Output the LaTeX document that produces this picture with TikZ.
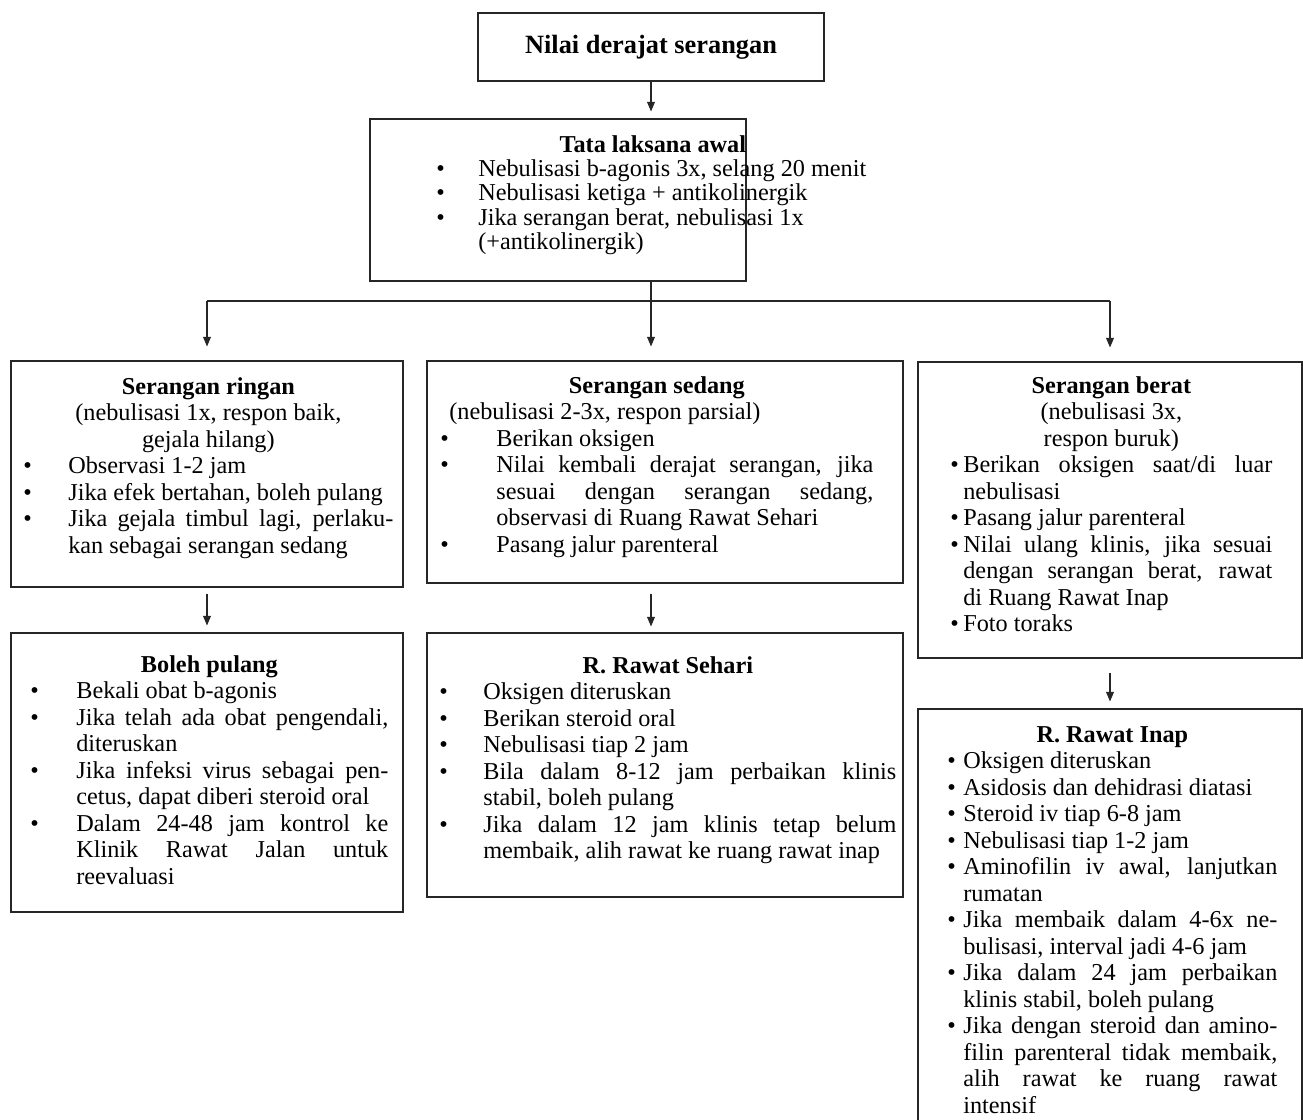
\documentclass[tikz,border=0pt]{standalone}
\usepackage{fontspec}
\setmainfont{Liberation Serif}
\usetikzlibrary{arrows.meta}

\newlength{\itmind}
\newcommand{\itm}[1]{\par\noindent\hangindent=\itmind\hangafter=1\makebox[\itmind][l]{\textbullet}#1\par}
\newcommand{\hd}[1]{{\centering\bfseries #1\par}}

\begin{document}
\begin{tikzpicture}[
            box/.style={rectangle, draw=black!85, line width=0.6pt, inner sep=0pt},
            txt/.style={anchor=base west, inner sep=0pt, align=justify, font=\fontsize{13.8}{15.1}\selectfont,
                execute at begin node={\hyphenpenalty=10000\exhyphenpenalty=10000\tolerance=9999\emergencystretch=1em\parindent=0pt}},
            ind/.style={execute at begin node={\setlength{\itmind}{#1}}},
            link/.style={draw=black!85, line width=0.6pt},
            arrow/.style={link, -{Triangle[length=5.5pt,width=4.5pt]}}
            ]
            \useasboundingbox (0,0) rectangle (26.06,-22.4);
            \clip (0,0) rectangle (26.06,-22.4);

            % Start
            \node[box, minimum width=6.92cm, minimum height=1.36cm, font=\fontsize{15}{17}\selectfont\bfseries] (top) at (13.02,-0.94) {Nilai derajat serangan};
            \node[box, minimum width=7.52cm, minimum height=3.24cm] (tata) at (11.16,-4.00) {};
            \node[txt, ind=0.84cm, text width=9.10cm, font=\fontsize{13.8}{13.9}\selectfont] (tatatxt) at (8.72,-3.04) {%
                \hd{Tata laksana awal\hspace*{0.44cm}}
                \itm{Nebulisasi b-agonis 3x, selang 20 menit}
                \itm{Nebulisasi ketiga + antikolinergik}
                \itm{Jika serangan berat, nebulisasi 1x\hfil\break (+antikolinergik)}};

            % Attack grades
            \node[box, minimum width=7.84cm, minimum height=4.52cm] (ringan) at (4.14,-9.48) {};
            \node[txt, ind=0.90cm, text width=7.40cm] (ringantxt) at (0.46,-7.88) {%
                \hd{Serangan ringan}
                {\centering (nebulisasi 1x, respon baik,\par gejala hilang)\par}
                \itm{Observasi 1-2 jam}
                \itm{Jika efek bertahan, boleh pulang}
                \itm{Jika gejala timbul lagi, perlaku-\linebreak kan sebagai serangan sedang}};

            \node[box, minimum width=9.52cm, minimum height=4.44cm] (sedang) at (13.30,-9.44) {};
            \node[txt, ind=1.12cm, text width=8.66cm] (sedangtxt) at (8.80,-7.86) {%
                \hd{Serangan sedang}
                \noindent\hspace*{0.18cm}(nebulisasi 2-3x, respon parsial)\par
                \itm{Berikan oksigen}
                \itm{Nilai kembali derajat serangan, jika\linebreak sesuai dengan serangan sedang,\linebreak observasi di Ruang Rawat Sehari}
                \itm{Pasang jalur parenteral}};

            \node[box, minimum width=7.68cm, minimum height=5.92cm] (berat) at (22.20,-10.20) {};
            \node[txt, ind=0.26cm, text width=6.44cm] (berattxt) at (19.00,-7.86) {%
                \hd{Serangan berat}
                {\centering (nebulisasi 3x,\par respon buruk)\par}
                \itm{Berikan oksigen saat/di luar\linebreak nebulisasi}
                \itm{Pasang jalur parenteral}
                \itm{Nilai ulang klinis, jika sesuai\linebreak dengan serangan berat, rawat\linebreak di Ruang Rawat Inap}
                \itm{Foto toraks}};

            % Follow-up
            \node[box, minimum width=7.84cm, minimum height=5.58cm] (pulang) at (4.14,-15.45) {};
            \node[txt, ind=0.92cm, text width=7.16cm] (pulangtxt) at (0.60,-13.44) {%
                \hd{Boleh pulang}
                \itm{Bekali obat b-agonis}
                \itm{Jika telah ada obat pengendali,\linebreak diteruskan}
                \itm{Jika infeksi virus sebagai pen-\linebreak cetus, dapat diberi steroid oral}
                \itm{Dalam 24-48 jam kontrol ke\linebreak Klinik Rawat Jalan untuk\linebreak reevaluasi}};

            \node[box, minimum width=9.52cm, minimum height=5.28cm] (sehari) at (13.30,-15.30) {};
            \node[txt, ind=0.88cm, text width=9.14cm] (seharitxt) at (8.78,-13.46) {%
                \hd{R. Rawat Sehari}
                \itm{Oksigen diteruskan}
                \itm{Berikan steroid oral}
                \itm{Nebulisasi tiap 2 jam}
                \itm{Bila dalam 8-12 jam perbaikan klinis\linebreak stabil, boleh pulang}
                \itm{Jika dalam 12 jam klinis tetap belum\linebreak membaik, alih rawat ke ruang rawat inap}};

            \node[box, minimum width=7.68cm, minimum height=8.62cm] (inap) at (22.20,-18.49) {};
            \node[txt, ind=0.32cm, text width=6.60cm] (inaptxt) at (18.94,-14.84) {%
                \hd{R. Rawat Inap}
                \itm{Oksigen diteruskan}
                \itm{Asidosis dan dehidrasi diatasi}
                \itm{Steroid iv tiap 6-8 jam}
                \itm{Nebulisasi tiap 1-2 jam}
                \itm{Aminofilin iv awal, lanjutkan\linebreak rumatan}
                \itm{Jika membaik dalam 4-6x ne-\linebreak bulisasi, interval jadi 4-6 jam}
                \itm{Jika dalam 24 jam perbaikan\linebreak klinis stabil, boleh pulang}
                \itm{Jika dengan steroid dan amino-\linebreak filin parenteral tidak membaik,\linebreak alih rawat ke ruang rawat\linebreak intensif}};

            % Arrows
            \coordinate (split) at (13.02,-6.02);
            \coordinate (jl) at (4.14,-6.02);
            \coordinate (jr) at (22.20,-6.02);
            \draw[arrow, shorten >=0.14cm] (top.south) -- (top.south |- tata.north);
            \draw[link] (top.south |- tata.south) -- (split);
            \draw[link] (jl) -- (jr);
            \draw[arrow, shorten >=0.28cm] (jl) -- (ringan.north);
            \draw[arrow, shorten >=0.28cm] (split) -- (split |- sedang.north);
            \draw[arrow, shorten >=0.28cm] (jr) -- (berat.north);
            \draw[arrow, shorten <=0.12cm, shorten >=0.14cm] (ringan.south) -- (pulang.north);
            \draw[arrow, shorten <=0.2cm, shorten >=0.12cm] (split |- sedang.south) -- (split |- sehari.north);
            \draw[arrow, shorten <=0.28cm, shorten >=0.14cm] (berat.south) -- (inap.north);

        \end{tikzpicture}
\end{document}
